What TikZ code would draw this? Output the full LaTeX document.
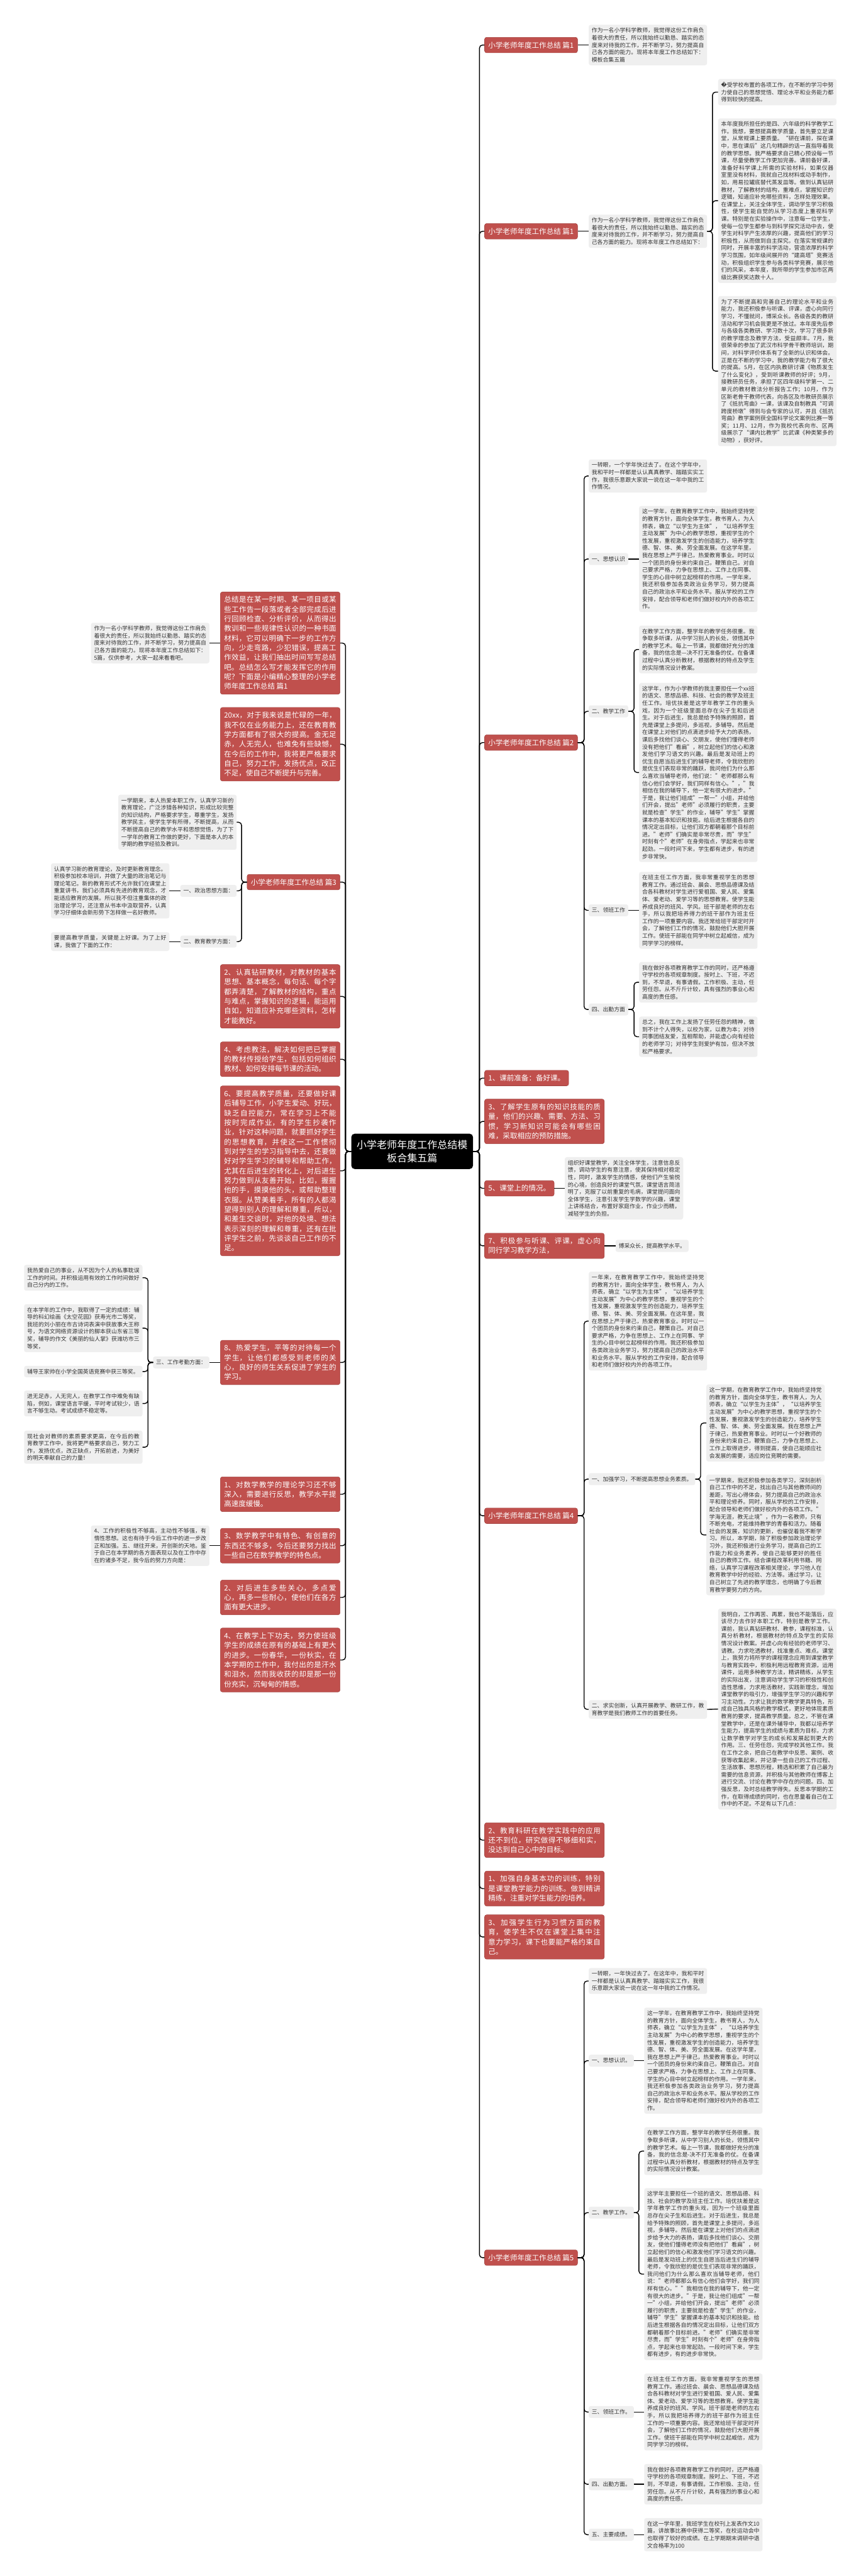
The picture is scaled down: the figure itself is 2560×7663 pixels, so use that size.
\documentclass[tikz,border=0pt]{standalone}
\usepackage{fontspec}
\setmainfont{Noto Sans CJK SC}
\newfontfamily\dvfont{DejaVu Sans}
\XeTeXlinebreaklocale "zh"
\XeTeXlinebreakskip = 0pt plus 1.5pt
\usetikzlibrary{positioning}
\definecolor{topicred}{HTML}{C0504D}
\definecolor{leafgray}{HTML}{EFEFEF}
\definecolor{inkgray}{HTML}{333333}

\begin{document}
\begin{tikzpicture}[x=1pt, y=-1pt,
  mainbox/.style={rectangle, rounded corners=10pt, fill=black, text=white, align=center,
    font=\fontsize{30}{38}\selectfont, minimum width=362pt, minimum height=105pt},
  redbox/.style={rectangle, rounded corners=6pt, fill=topicred, draw=topicred!85!black, line width=1pt,
    text=white, font=\fontsize{21.6}{28.7}\selectfont, inner xsep=11pt, inner ysep=13pt},
  redwide/.style={redbox, text width=334pt, align=justify},
  textbox/.style={rectangle, rounded corners=6pt, fill=leafgray, text=inkgray,
    font=\fontsize{16.6}{21.7}\selectfont, inner xsep=9pt, inner ysep=9pt, text width=334pt, align=justify},
  tagbox/.style={rectangle, rounded corners=6pt, fill=leafgray, text=inkgray,
    font=\fontsize{16.6}{21.7}\selectfont, inner xsep=9pt, inner ysep=10pt},
  conn/.style={draw=black, line width=2.6pt, rounded corners=9pt}
]
\useasboundingbox[fill=white] (0,0) rectangle (2560,7663);

% centre
\node[mainbox] (root) at (1226,3425) {小学老师年度工作总结模\\板合集五篇};

% ---------- right side ----------
\node[redbox, anchor=west] (p1a) at (1441,134) {小学老师年度工作总结 篇1};
\node[textbox, anchor=west] (p1atxt) at (1751,134) {作为一名小学科学教师，我觉得这份工作肩负着很大的责任，所以我始终以勤恳、踏实的态度来对待我的工作，并不断学习，努力提高自己各方面的能力。现将本年度工作总结如下：模板合集五篇};

\node[redbox, anchor=west] (p1b) at (1441,688) {小学老师年度工作总结 篇1};
\node[textbox, anchor=west] (p1btxt) at (1751,688) {作为一名小学科学教师，我觉得这份工作肩负着很大的责任，所以我始终以勤恳、踏实的态度来对待我的工作，并不断学习，努力提高自己各方面的能力。现将本年度工作总结如下：};
\node[textbox, anchor=west] (p1bc1) at (2136,274) {{\dvfont �}受学校布置的各项工作，在不断的学习中努力使自己的思想觉悟、理论水平和业务能力都得到较快的提高。};
\node[textbox, anchor=west] (p1bc2) at (2136,597) {本年度我所担任的是四、六年级的科学教学工作。我想，要想提高教学质量，首先要立足课堂，从常规课上要质量。“研在课前，探在课中，思在课后”这几句精辟的话一直指导着我的教学思想。我严格要求自己精心预设每一节课，尽量使教学工作更加完善。课前备好课，准备好科学课上所需的实验材料，如果仪器室里没有材料，我就自己找材料或动手制作，如，用易拉罐底替代蒸发皿等。做到认真钻研教材，了解教材的结构，重难点，掌握知识的逻辑，知道应补充哪些资料，怎样处理效果。在课堂上，关注全体学生，调动学生学习积极性，使学生能自觉的从学习态度上重视科学课。特别是在实验操作中，注意每一位学生，使每一位学生都参与到科学探究活动中去，使学生对科学产生浓厚的兴趣，提高他们的学习积极性，从而做到自主探究。在落实常规课的同时，开展丰富的科学活动，营造浓厚的科学学习氛围，如年级间展开的“建高塔”竞赛活动，积极组织学生参与各类科学竞赛，展示他们的风采，本年度，我所带的学生参加市区两级比赛获奖达数十人。};
\node[textbox, anchor=west] (p1bc3) at (2136,1104) {为了不断提高和完善自己的理论水平和业务能力，我还积极参与听课、评课，虚心向同行学习，不懂就问，博采众长。各级各类的教研活动和学习机会我更是不放过。本年度先后参与各级各类教研、学习数十次，学习了很多新的教学理念及教学方法，受益颇丰。7月，我很荣幸的参加了武汉市科学骨干教师培训，期间，对科学评价体系有了全新的认识和体会。正是在不断的学习中，我的教学能力有了很大的提高。5月，在区内执教研讨课《物质发生了什么变化》，受到听课教师的好评；9月，接教研员任务，承担了区四年级科学第一、二单元的教材教法分析报告工作；10月，作为区新老骨干教师代表，向各区及市教研员展示了《抵抗弯曲》一课，该课及自制教具“可调跨度桥墩”得到与会专家的认可，并且《抵抗弯曲》教学案例获全国科学论文案例比赛一等奖；11月、12月，作为我校代表向市、区两级展示了“课内比教学”比武课《种类繁多的动物》，获好评。};

\node[redbox, anchor=west] (p2) at (1441,2209) {小学老师年度工作总结 篇2};
\node[textbox, anchor=west] (p2intro) at (1751,1416) {一转眼，一个学年快过去了。在这个学年中，我和平时一样都是认认真真教学、踏踏实实工作，我很乐意跟大家说一说在这一年中我的工作情况。};
\node[tagbox, anchor=west] (p2a) at (1751,1663) {一、思想认识};
\node[textbox, anchor=west] (p2atxt) at (1901,1663) {这一学年，在教育教学工作中，我始终坚持党的教育方针，面向全体学生，教书育人，为人师表，确立“以学生为主体”，“以培养学生主动发展”为中心的教学思想，重视学生的个性发展，重视激发学生的创造能力，培养学生德、智、体、美、劳全面发展。在这学年里，我在思想上严于律己，热爱教育事业。时时以一个团员的身份来约束自己，鞭策自己。对自己要求严格，力争在思想上、工作上在同事、学生的心目中树立起榜样的作用。一学年来，我还积极参加各类政治业务学习，努力提高自己的政治水平和业务水平。服从学校的工作安排，配合领导和老师们做好校内外的各项工作。};
\node[tagbox, anchor=west] (p2b) at (1751,2116) {二、教学工作};
\node[textbox, anchor=west] (p2btxt1) at (1901,1932) {在教学工作方面，整学年的教学任务很重。我争取多听课，从中学习别人的长处，领悟其中的教学艺术。每上一节课，我都做好充分的准备，我的信念是—决不打无准备的仗。在备课过程中认真分析教材，根据教材的特点及学生的实际情况设计教案。};
\node[textbox, anchor=west] (p2btxt2) at (1901,2298) {这学年，作为小学教师的我主要担任一个xx班的语文、思想品德、科技、社会的教学及班主任工作。培优扶差是这学年教学工作的重头戏，因为一个班级里面总存在尖子生和后进生。对于后进生，我总是给予特殊的照顾，首先是课堂上多提问，多巡视，多辅导。然后是在课堂上对他们的点滴进步给予大力的表扬，课后多找他们谈心、交朋友，使他们懂得老师没有把他们"看扁"，树立起他们的信心和激发他们学习语文的兴趣。最后是发动班上的优生自愿当后进生们的辅导老师，令我欣慰的是优生们表现非常的踊跃，我问他们为什么那么喜欢当辅导老师，他们说："老师都那么有信心他们会学好，我们同样有信心。"，"我相信在我的辅导下，他一定有很大的进步。"于是，我让他们组成"一帮一"小组，并给他们开会，提出"老师"必须履行的职责，主要就是检查"学生"的作业，辅导"学生"掌握课本的基本知识和技能。给后进生根据各自的情况定出目标，让他们双方都朝着那个目标前进。"老师"们确实是非常尽责，而"学生"时刻有个"老师"在身旁指点，学起来也非常起劲。一段时间下来，学生都有进步，有的进步非常快。};
\node[tagbox, anchor=west] (p2c) at (1751,2708) {三、领班工作};
\node[textbox, anchor=west] (p2ctxt) at (1901,2708) {在班主任工作方面，我非常重视学生的思想教育工作。通过班会、晨会、思想品德课及结合各科教材对学生进行爱祖国、爱人民、爱集体、爱老动、爱学习等的思想教育。使学生能养成良好的班风、学风。班干部是老师的左右手，所以我把培养得力的班干部作为班主任工作的一项重要内容。我还常给班干部定时开会，了解他们工作的情况，鼓励他们大胆开展工作。使班干部能在同学中树立起威信，成为同学学习的榜样。};
\node[tagbox, anchor=west] (p2d) at (1751,3003) {四、出勤方面};
\node[textbox, anchor=west] (p2dtxt1) at (1901,2922) {我在做好各项教育教学工作的同时，还严格遵守学校的各项规章制度。按时上、下班，不迟到，不早退，有事请假。工作积极、主动，任劳任怨。从不斤斤计较，具有强烈的事业心和高度的责任感。};
\node[textbox, anchor=west] (p2dtxt2) at (1901,3084) {总之，我在工作上发扬了任劳任怨的精神，做到不计个人得失，以校为家，以教为本；对待同事团结友爱，互相帮助，并能虚心向有经验的老师学习；对待学生则爱护有加，但决不放松严格要求。};

\node[redbox, anchor=west] (r1) at (1441,3207) {1、课前准备：备好课。};
\node[redwide, anchor=west] (r3) at (1441,3336) {3、了解学生原有的知识技能的质量，他们的兴趣、需要、方法、习惯，学习新知识可能会有哪些困难，采取相应的预防措施。};
\node[redbox, anchor=west] (r5) at (1441,3535) {5、课堂上的情况。};
\node[textbox, anchor=west] (r5txt) at (1680,3535) {组织好课堂教学，关注全体学生，注意信息反馈，调动学生的有意注意，使其保持相对稳定性，同时，激发学生的情感，使他们产生愉悦的心境，创造良好的课堂气氛，课堂语言简洁明了，克服了以前重复的毛病，课堂提问面向全体学生，注意引发学生学数学的兴趣，课堂上讲练结合，布置好家庭作业，作业少而精，减轻学生的负担。};
\node[redwide, anchor=west] (r7) at (1441,3706) {7、积极参与听课、评课，虚心向同行学习教学方法，};
\node[tagbox, anchor=west] (r7txt) at (1831,3706) {博采众长，提高教学水平。};

\node[redbox, anchor=west] (p4) at (1441,4509) {小学老师年度工作总结 篇4};
\node[textbox, anchor=west] (p4intro) at (1751,3930) {一年来，在教育教学工作中，我始终坚持党的教育方针，面向全体学生，教书育人，为人师表，确立“以学生为主体”，“以培养学生主动发展”为中心的教学思想，重视学生的个性发展，重视激发学生的创造能力，培养学生德、智、体、美、劳全面发展。在这年里，我在思想上严于律己，热爱教育事业。时时以一个团员的身份来约束自己，鞭策自己。对自己要求严格，力争在思想上、工作上在同事、学生的心目中树立起榜样的作用。我还积极参加各类政治业务学习，努力提高自己的政治水平和业务水平。服从学校的工作安排，配合领导和老师们做好校内外的各项工作。};
\node[tagbox, anchor=west] (p4a) at (1751,4400) {一、加强学习，不断提高思想业务素质。};
\node[textbox, anchor=west] (p4atxt1) at (2101,4233) {这一学期，在教育教学工作中，我始终坚持党的教育方针，面向全体学生，教书育人，为人师表，确立“以学生为主体”，“以培养学生主动发展”为中心的教学思想，重视学生的个性发展，重视激发学生的创造能力，培养学生德、智、体、美、劳全面发展。我在思想上严于律己，热爱教育事业。时时以一个好教师的身份来约束自己，鞭策自己，力争在思想上、工作上取得进步，得到提高，使自己能顺应社会发展的需要，适应岗位竞聘的需要。};
\node[textbox, anchor=west] (p4atxt2) at (2101,4566) {一学期来，我还积极参加各类学习，深刻剖析自己工作中的不足，找出自己与其他教师间的差距，写出心得体会，努力提高自己的政治水平和理论修养。同时，服从学校的工作安排，配合领导和老师们做好校内外的各项工作。”学海无涯，教无止境”，作为一名教师，只有不断充电，才能维持教学的青春和活力。随着社会的发展，知识的更新，也催促着我不断学习。所以，本学期，除了积极参加政治理论学习外，我还积极进行业务学习，提高自己的工作能力和业务素养，使自己能够更好的胜任自己的教师工作。结合课程改革利用书籍、网络，认真学习课程改革相关理论，学习他人在教育教学中好的经验、方法等。通过学习，让自己树立了先进的教学理念，也明确了今后教育教学要努力的方向。};
\node[textbox, anchor=west] (p4b) at (1751,5085) {二、求实创新，认真开展教学、教研工作，教育教学是我们教师工作的首要任务。};
\node[textbox, anchor=west] (p4btxt) at (2136,5084) {我明白，工作再苦、再累，我也不能落后，应该尽力去作好本职工作，特别是教学工作。课前，我认真钻研教材、教参，课程标准，认真分析教材，根据教材的特点及学生的实际情况设计教案。并虚心向有经验的老师学习、请教。力求吃透教材，找准重点、难点。课堂上，我努力将所学的课程理念应用到课堂教学与教育实践中，积极利用远程教育资源，运用课件，运用多种教学方法，精讲精练，从学生的实际出发，注意调动学生学习的积极性和创造性思维，力求用活教材，实践新理念，增加课堂教学的吸引力，增强学生学习的兴趣和学习主动性。力求让我的数学教学更具特色，形成自己独具风格的教学模式，更好地体现素质教育的要求，提高教学质量。总之，不管在课堂教学中，还是在课外辅导中，我都以培养学生能力，提高学生的成绩与素质为目标，力求让数学教学对学生的成长和发展起到更大的作用。三、任劳任怨，完成学校其他工作。我在工作之余，把自己在教学中反思、案例、收获等收集起来，并记录一些自己的工作过程、生活故事、思想历程，精选和积累了自己最为需要的信息资源，并积极与其他教师在博客上进行交流、讨论在教学中存在的问题。四、加强反思，及时总结教学得失。反思本学期的工作，在取得成绩的同时，也在思量着自己在工作中的不足。不足有以下几点：};

\node[redwide, anchor=west] (s2) at (1441,5474) {2、教育科研在教学实践中的应用还不到位，研究做得不够细和实，没达到自己心中的目标。};
\node[redwide, anchor=west] (s1) at (1441,5618) {1、加强自身基本功的训练，特别是课堂教学能力的训练。做到精讲精练，注重对学生能力的培养。};
\node[redwide, anchor=west] (s3) at (1441,5762) {3、加强学生行为习惯方面的教育，使学生不仅在课堂上集中注意力学习，课下也要能严格约束自己。};

\node[redbox, anchor=west] (p5) at (1441,6716) {小学老师年度工作总结 篇5};
\node[textbox, anchor=west] (p5intro) at (1751,5893) {一转眼，一年快过去了。在这年中，我和平时一样都是认认真真教学、踏踏实实工作，我很乐意跟大家说一说在这一年中我的工作情况。};
\node[tagbox, anchor=west] (p5a) at (1751,6130) {一、思想认识。};
\node[textbox, anchor=west] (p5atxt) at (1916,6130) {这一学年，在教育教学工作中，我始终坚持党的教育方针，面向全体学生，教书育人，为人师表，确立“以学生为主体”，“以培养学生主动发展”为中心的教学思想，重视学生的个性发展，重视激发学生的创造能力，培养学生德、智、体、美、劳全面发展。在这学年里，我在思想上严于律己，热爱教育事业。时时以一个团员的身份来约束自己，鞭策自己。对自己要求严格，力争在思想上、工作上在同事、学生的心目中树立起榜样的作用。一学年来，我还积极参加各类政治业务学习，努力提高自己的政治水平和业务水平。服从学校的工作安排，配合领导和老师们做好校内外的各项工作。};
\node[tagbox, anchor=west] (p5b) at (1751,6582) {二、教学工作。};
\node[textbox, anchor=west] (p5btxt1) at (1916,6399) {在教学工作方面，整学年的教学任务很重。我争取多听课，从中学习别人的长处，领悟其中的教学艺术。每上一节课，我都做好充分的准备，我的信念是-决不打无准备的仗。在备课过程中认真分析教材，根据教材的特点及学生的实际情况设计教案。};
\node[textbox, anchor=west] (p5btxt2) at (1916,6765) {这学年主要担任一个班的语文、思想品德、科技、社会的教学及班主任工作。培优扶差是这学年教学工作的重头戏，因为一个班级里面总存在尖子生和后进生。对于后进生，我总是给予特殊的照顾，首先是课堂上多提问，多巡视，多辅导。然后是在课堂上对他们的点滴进步给予大力的表扬，课后多找他们谈心、交朋友，使他们懂得老师没有把他们"看扁"，树立起他们的信心和激发他们学习语文的兴趣。最后是发动班上的优生自愿当后进生们的辅导老师，令我欣慰的是优生们表现非常的踊跃，我问他们为什么那么喜欢当辅导老师，他们说："老师都那么有信心他们会学好，我们同样有信心。""我相信在我的辅导下，他一定有很大的进步。"于是，我让他们组成"一帮一"小组，并给他们开会，提出"老师"必须履行的职责，主要就是检查"学生"的作业，辅导"学生"掌握课本的基本知识和技能。给后进生根据各自的情况定出目标，让他们双方都朝着那个目标前进。"老师"们确实是非常尽责，而"学生"时刻有个"老师"在身旁指点，学起来也非常起劲。一段时间下来，学生都有进步，有的进步非常快。};
\node[tagbox, anchor=west] (p5c) at (1751,7175) {三、领班工作。};
\node[textbox, anchor=west] (p5ctxt) at (1916,7175) {在班主任工作方面，我非常重视学生的思想教育工作。通过班会、晨会、思想品德课及结合各科教材对学生进行爱祖国、爱人民、爱集体、爱老动、爱学习等的思想教育。使学生能养成良好的班风、学风。班干部是老师的左右手，所以我把培养得力的班干部作为班主任工作的一项重要内容。我还常给班干部定时开会，了解他们工作的情况，鼓励他们大胆开展工作。使班干部能在同学中树立起威信，成为同学学习的榜样。};
\node[tagbox, anchor=west] (p5d) at (1751,7390) {四、出勤方面。};
\node[textbox, anchor=west] (p5dtxt) at (1916,7390) {我在做好各项教育教学工作的同时，还严格遵守学校的各项规章制度。按时上、下班，不迟到，不早退，有事请假。工作积极、主动，任劳任怨。从不斤斤计较，具有强烈的事业心和高度的责任感。};
\node[tagbox, anchor=west] (p5e) at (1751,7540) {五、主要成绩。};
\node[textbox, anchor=west] (p5etxt) at (1916,7540) {在这一学年里，我班学生在校刊上发表作文10篇，讲故事比赛中获得二等奖，在校运动会中也取得了较好的成绩。在上学期期末调研中语文合格率为100};

% ---------- left side ----------
\node[redwide, anchor=east] (sum) at (1012,1913) {总结是在某一时期、某一项目或某些工作告一段落或者全部完成后进行回顾检查、分析评价，从而得出教训和一些规律性认识的一种书面材料，它可以明确下一步的工作方向，少走弯路，少犯错误，提高工作效益，让我们抽出时间写写总结吧。总结怎么写才能发挥它的作用呢？下面是小编精心整理的小学老师年度工作总结 篇1};
\node[textbox, anchor=east] (sumtxt) at (623,1913) {作为一名小学科学教师，我觉得这份工作肩负着很大的责任，所以我始终以勤恳、踏实的态度来对待我的工作，并不断学习，努力提高自己各方面的能力。现将本年度工作总结如下：5篇，仅供参考，大家一起来看看吧。};
\node[redwide, anchor=east] (y20) at (1012,2214) {20xx，对于我来说是忙碌的一年，我不仅在业务能力上，还在教育教学方面都有了很大的提高。金无足赤，人无完人，也难免有些缺憾，在今后的工作中，我将更严格要求自己，努力工作，发扬优点，改正不足，使自己不断提升与完善。};

\node[redbox, anchor=east] (p3) at (1012,2624) {小学老师年度工作总结 篇3};
\node[textbox, anchor=east] (p3intro) at (704,2446) {一学期来，本人热爱本职工作，认真学习新的教育理论，广泛涉猎各种知识，形成比较完整的知识结构，严格要求学生，尊重学生，发扬教学民主，使学生学有所得，不断提高，从而不断提高自己的教学水平和思想觉悟，为了下一学年的教育工作做的更好，下面是本人的本学期的教学经验及教训。};
\node[tagbox, anchor=east] (p3a) at (704,2650) {一、政治思想方面：};
\node[textbox, anchor=east] (p3atxt) at (504,2650) {认真学习新的教育理论，及时更新教育理念。积极参加校本培训，并做了大量的政治笔记与理论笔记。新的教育形式不允许我们在课堂上重复讲书，我们必须具有先进的教育观念，才能适应教育的发展。所以我不但注重集体的政治理论学习，还注意从书本中汲取营养，认真学习仔细体会新形势下怎样做一名好教师。};
\node[tagbox, anchor=east] (p3b) at (704,2801) {二、教育教学方面：};
\node[textbox, anchor=east] (p3btxt) at (504,2801) {要提高教学质量，关键是上好课。为了上好课，我做了下面的工作：};

\node[redwide, anchor=east] (l2) at (1012,2964) {2、认真钻研教材，对教材的基本思想、基本概念，每句话、每个字都弄清楚，了解教材的结构，重点与难点，掌握知识的逻辑，能运用自如，知道应补充哪些资料，怎样才能教好。};
\node[redwide, anchor=east] (l4) at (1012,3151) {4、考虑教法，解决如何把已掌握的教材传授给学生，包括如何组织教材、如何安排每节课的活动。};
\node[redwide, anchor=east] (l6) at (1012,3483) {6、要提高教学质量，还要做好课后辅导工作，小学生爱动、好玩，缺乏自控能力，常在学习上不能按时完成作业，有的学生抄袭作业，针对这种问题，就要抓好学生的思想教育，并使这一工作惯彻到对学生的学习指导中去，还要做好对学生学习的辅导和帮助工作，尤其在后进生的转化上，对后进生努力做到从友善开始，比如，握握他的手，摸摸他的头，或帮助整理衣服。从赞美着手，所有的人都渴望得到别人的理解和尊重，所以，和差生交谈时，对他的处境、想法表示深刻的理解和尊重，还有在批评学生之前，先谈谈自己工作的不足。};
\node[redwide, anchor=east] (l8) at (1012,4053) {8、热爱学生，平等的对待每一个学生，让他们都感受到老师的关心，良好的师生关系促进了学生的学习。};
\node[tagbox, anchor=east] (l8a) at (623,4053) {三、工作考勤方面：};
\node[textbox, anchor=east] (l8t1) at (424,3801) {我热爱自己的事业，从不因为个人的私事耽误工作的时间。并积极运用有效的工作时间做好自己分内的工作。};
\node[textbox, anchor=east] (l8t2) at (424,3951) {在本学年的工作中，我取得了一定的成绩：辅导的科幻绘画《太空花园》获寿光市二等奖，我班的刘小丽在市古诗词表演中获故事大王称号，为语文网络资源设计的脚本获山东省三等奖，辅导的作文《美丽的仙人掌》获潍坊市三等奖，};
\node[textbox, anchor=east] (l8t3) at (424,4080) {辅导王家帅在小学全国英语竞赛中获三等奖。};
\node[textbox, anchor=east] (l8t4) at (424,4175) {进无足赤，人无完人，在教学工作中难免有缺陷，例如，课堂语言平缓，平时考试较少，语言不够生动。考试成绩不稳定等。};
\node[textbox, anchor=east] (l8t5) at (424,4305) {现社会对教师的素质要求更高，在今后的教育教学工作中，我将更严格要求自己，努力工作，发扬优点，改正缺点，开拓前进，为美好的明天奉献自己的力量！};

\node[redwide, anchor=east] (m1) at (1012,4445) {1、对数学教学的理论学习还不够深入，需要进行反思，教学水平提高速度缓慢。};
\node[redwide, anchor=east] (m3) at (1012,4598) {3、数学教学中有特色、有创意的东西还不够多，今后还要努力找出一些自己在数学教学的特色点。};
\node[textbox, anchor=east] (m3txt) at (623,4598) {4、工作的积极性不够高，主动性不够强，有惰性思想。这也有待于今后工作中的进一步改正和加强。五、继往开来，开创新的天地。鉴于自己在本学期的各方面表现以及在工作中存在的诸多不足，我今后的努力方向是：};
\node[redwide, anchor=east] (m2) at (1012,4752) {2、对后进生多些关心，多点爱心，再多一些耐心，使他们在各方面有更大进步。};
\node[redwide, anchor=east] (m4) at (1012,4938) {4、在教学上下功夫，努力使班级学生的成绩在原有的基础上有更大的进步。一份春华，一份秋实，在本学期的工作中，我付出的是汗水和泪水，然而我收获的却是那一份份充实，沉甸甸的情感。};

% ---------- connectors ----------
\foreach \n in {p1a,p1b,p2,r1,r3,r5,r7,p4,s2,s1,s3,p5}
  \draw[conn] (root.east) -- ++(19,0) |- (\n.west);
\foreach \n in {sum,y20,p3,l2,l4,l6,l8,m1,m3,m2,m4}
  \draw[conn] (root.west) -- ++(-17,0) |- (\n.east);

\draw[conn] (p1a.east) -- (p1atxt.west);
\draw[conn] (p1b.east) -- (p1btxt.west);
\foreach \n in {p1bc1,p1bc2,p1bc3}
  \draw[conn] (p1btxt.east) -- ++(16,0) |- (\n.west);

\foreach \n in {p2intro,p2a,p2b,p2c,p2d}
  \draw[conn] (p2.east) -- ++(19,0) |- (\n.west);
\draw[conn] (p2a.east) -- (p2atxt.west);
\foreach \n in {p2btxt1,p2btxt2}
  \draw[conn] (p2b.east) -- ++(17,0) |- (\n.west);
\draw[conn] (p2c.east) -- (p2ctxt.west);
\foreach \n in {p2dtxt1,p2dtxt2}
  \draw[conn] (p2d.east) -- ++(17,0) |- (\n.west);

\draw[conn] (r5.east) -- (r5txt.west);
\draw[conn] (r7.east) -- (r7txt.west);

\foreach \n in {p4intro,p4a,p4b}
  \draw[conn] (p4.east) -- ++(19,0) |- (\n.west);
\foreach \n in {p4atxt1,p4atxt2}
  \draw[conn] (p4a.east) -- ++(16,0) |- (\n.west);
\draw[conn] (p4b.east) -- (p4btxt.west);

\foreach \n in {p5intro,p5a,p5b,p5c,p5d,p5e}
  \draw[conn] (p5.east) -- ++(19,0) |- (\n.west);
\draw[conn] (p5a.east) -- (p5atxt.west);
\foreach \n in {p5btxt1,p5btxt2}
  \draw[conn] (p5b.east) -- ++(15,0) |- (\n.west);
\draw[conn] (p5c.east) -- (p5ctxt.west);
\draw[conn] (p5d.east) -- (p5dtxt.west);
\draw[conn] (p5e.east) -- (p5etxt.west);

\draw[conn] (sum.west) -- (sumtxt.east);
\foreach \n in {p3intro,p3a,p3b}
  \draw[conn] (p3.west) -- ++(-16,0) |- (\n.east);
\draw[conn] (p3a.west) -- (p3atxt.east);
\draw[conn] (p3b.west) -- (p3btxt.east);
\draw[conn] (l8.west) -- (l8a.east);
\foreach \n in {l8t1,l8t2,l8t3,l8t4,l8t5}
  \draw[conn] (l8a.west) -- ++(-15,0) |- (\n.east);
\draw[conn] (m3.west) -- (m3txt.east);
\end{tikzpicture}
\end{document}
